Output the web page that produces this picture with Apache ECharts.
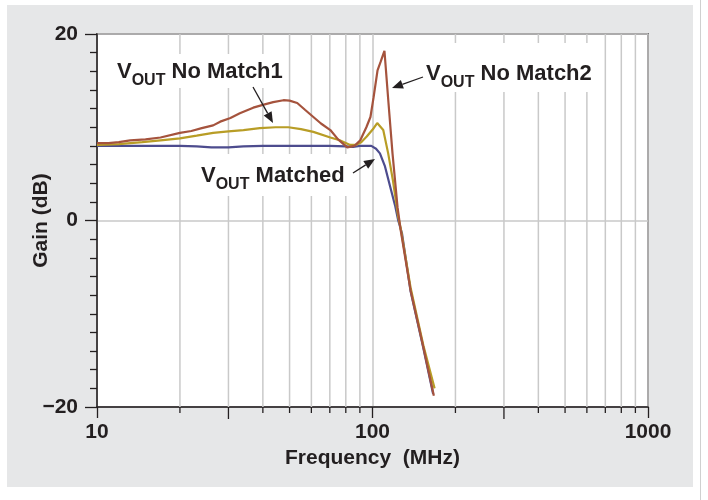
<!DOCTYPE html>
<html>
<head>
<meta charset="utf-8">
<script src="https://cdn.jsdelivr.net/npm/echarts/dist/echarts.min.js"></script>
<style>
html,body{margin:0;padding:0;background:#fff;}
#chart{width:708px;height:500px;}
</style>
</head>
<body>
<div id="chart"></div>
<script>
// ---------- data ----------
const noMatch2Freq = [10, 11, 12, 13.2, 15, 17, 20, 22, 24, 26.4, 28, 30.5, 33, 36.9, 40, 43.6, 47.5, 50, 53.3, 57, 61, 65, 70.3, 75, 81, 86, 90.3, 95, 98.3, 100.9, 104.3, 107, 110.5, 114.3, 118.2, 123.3, 126.5, 137.5, 153, 167];
const noMatch2Gain = [8.3, 8.3, 8.4, 8.6, 8.7, 8.9, 9.4, 9.6, 9.9, 10.2, 10.6, 11.0, 11.5, 12.1, 12.4, 12.7, 12.9, 12.85, 12.6, 11.85, 11.1, 10.4, 9.7, 8.7, 7.85, 8.0, 8.6, 10.0, 11.1, 13.2, 16.1, 17.0, 18.2, 12.6, 7.2, 1.4, -1.0, -7.5, -13.6, -18.8];

const noMatch1Freq = [10, 12, 14.6, 17, 20, 23, 26.4, 30, 34, 39, 44.5, 49.5, 55, 61, 70.3, 76, 83, 87, 91, 95.3, 101, 104, 109.4, 114, 118.6, 124, 126.5, 137.5, 153, 168];
const noMatch1Gain = [8.1, 8.2, 8.4, 8.6, 8.8, 9.1, 9.4, 9.55, 9.7, 9.9, 10.0, 10.0, 9.8, 9.5, 8.9, 8.6, 8.1, 8.1, 8.4, 9.0, 9.9, 10.45, 9.7, 7.2, 4.3, 0.4, -0.8, -7.2, -13.4, -18.0];

const matchedFreq = [10, 15, 20, 23, 26, 30, 34, 40, 50, 60, 70, 80, 85, 90, 95, 99, 103, 106.4, 111, 116, 121, 124, 128, 137.5, 153, 166];
const matchedGain = [8.0, 8.0, 8.0, 7.95, 7.85, 7.85, 7.95, 8.0, 8.0, 8.0, 8.0, 7.95, 7.9, 8.0, 8.0, 8.0, 7.7, 7.2, 5.8, 3.6, 1.5, 0.0, -1.4, -7.6, -13.7, -18.6];

const xMinorTicks = [20, 30, 40, 50, 60, 70, 80, 90, 200, 300, 400, 500, 600, 700, 800, 900];
const xAxisName = 'Frequency  (MHz)';
const yAxisName = 'Gain (dB)';
const annotationTexts = [
  ['V', 'OUT', ' No Match1'],
  ['V', 'OUT', ' No Match2'],
  ['V', 'OUT', ' Matched']
];

// ---------- layout / style ----------
const FONT = '"Liberation Sans", Arial, Helvetica, sans-serif';
const INK = '#231f20';
const GRID_GRAY = '#c9c9c9';
const COLORS = { matched: '#4d4c8e', noMatch1: '#b89d26', noMatch2: '#a5533d' };
// pixel layout of the callouts: text left, cap top, padding, arrow tail -> tip
const annotationLayout = [
  { x: 117, capTop: 65, pad: [7, 4, 5, 4], arrow: [[253, 87], [273, 123]] },
  { x: 426, capTop: 67, pad: [20, 4, 7, 4], arrow: [[423, 77], [392, 88]] },
  { x: 201, capTop: 169, pad: [11, 4, 9, 4], arrow: [[353, 173], [375, 159]] }
];

const chart = echarts.init(document.getElementById('chart'), null, { renderer: 'canvas' });

function pairs(f, g) { return f.map((v, i) => [v, g[i]]); }

function lineSeries(name, f, g, color, z) {
  return {
    name: name, type: 'line', data: pairs(f, g), showSymbol: false, symbol: 'none',
    smooth: false, z: z, silent: true, animation: false,
    lineStyle: { color: color, width: 2.2 }
  };
}

const graphics = [];
// white margins around the grey panel
graphics.push({ type: 'rect', shape: { x: 0, y: 0, width: 708, height: 5 }, style: { fill: '#fff' }, silent: true });
graphics.push({ type: 'rect', shape: { x: 0, y: 487, width: 708, height: 13 }, style: { fill: '#fff' }, silent: true });
graphics.push({ type: 'rect', shape: { x: 0, y: 0, width: 7, height: 500 }, style: { fill: '#fff' }, silent: true });
graphics.push({ type: 'rect', shape: { x: 693, y: 0, width: 15, height: 500 }, style: { fill: '#fff' }, silent: true });
graphics.push({ type: 'line', shape: { x1: 700.5, y1: 0, x2: 700.5, y2: 500 }, style: { stroke: '#d0d0d0', lineWidth: 1 }, silent: true });

annotationTexts.forEach((parts, i) => {
  const L = annotationLayout[i];
  graphics.push({
    type: 'text', z: 100, silent: true,
    x: L.x - L.pad[3], y: L.capTop - 4 - L.pad[0],
    style: {
      text: '{v|' + parts[0] + '}{s|' + parts[1] + '}{t|' + parts[2] + '}',
      backgroundColor: '#fff', padding: L.pad,
      align: 'left', verticalAlign: 'top',
      rich: {
        v: { fill: INK, fontSize: 22, fontWeight: 'bold', fontFamily: FONT, lineHeight: 22, verticalAlign: 'top' },
        s: { fill: INK, fontSize: 16, fontWeight: 'bold', fontFamily: FONT, lineHeight: 16, padding: [12, 0, 0, 0], verticalAlign: 'top' },
        t: { fill: INK, fontSize: 22, fontWeight: 'bold', fontFamily: FONT, lineHeight: 22, verticalAlign: 'top' }
      }
    }
  });
  const [tail, tip] = L.arrow;
  const dx = tip[0] - tail[0], dy = tip[1] - tail[1];
  const len = Math.sqrt(dx * dx + dy * dy);
  const ux = dx / len, uy = dy / len;
  const hl = 11, hw = 4.5;
  const bx = tip[0] - ux * hl, by = tip[1] - uy * hl;
  graphics.push({ type: 'line', z: 101, silent: true, shape: { x1: tail[0], y1: tail[1], x2: bx, y2: by }, style: { stroke: INK, lineWidth: 1.3 } });
  graphics.push({ type: 'polygon', z: 101, silent: true, shape: { points: [[tip[0], tip[1]], [bx - uy * hw, by + ux * hw], [bx + uy * hw, by - ux * hw]] }, style: { fill: INK } });
});

const option = {
  animation: false,
  backgroundColor: '#e6e7e8',
  grid: { left: 97, right: 60, top: 34, bottom: 93, show: true, backgroundColor: '#fff', borderColor: INK, borderWidth: 1.5 },
  xAxis: {
    type: 'log', logBase: 10, min: 10, max: 1000,
    name: xAxisName, nameLocation: 'middle', nameGap: 41, nameMoveOverlap: false,
    nameTextStyle: { color: INK, fontSize: 21, fontWeight: 'bold', fontFamily: FONT },
    axisLine: { show: true, onZero: false, lineStyle: { color: INK, width: 1.5 } },
    axisTick: { show: true, length: 11, lineStyle: { color: INK, width: 1.3 } },
    axisLabel: { color: INK, fontSize: 21, fontWeight: 'bold', fontFamily: FONT, margin: 15, formatter: v => String(Math.round(v)) },
    splitLine: { show: true, lineStyle: { color: GRID_GRAY, width: 1.5 } }
  },
  yAxis: {
    type: 'value', min: -20, max: 20, interval: 20,
    name: yAxisName, nameLocation: 'middle', nameGap: 45, nameRotate: 90, nameMoveOverlap: false,
    nameTextStyle: { color: INK, fontSize: 21, fontWeight: 'bold', fontFamily: FONT },
    axisLine: { show: true, onZero: false, lineStyle: { color: INK, width: 1.5 } },
    axisTick: { show: true, length: 12, lineStyle: { color: INK, width: 1.3 } },
    minorTick: { show: true, splitNumber: 10, length: 7, lineStyle: { color: INK, width: 1.3 } },
    axisLabel: { color: INK, fontSize: 21, fontWeight: 'bold', fontFamily: FONT, margin: 19, formatter: v => (v < 0 ? '\u2212' + (-v) : String(v)) },
    splitLine: { show: true, lineStyle: { color: GRID_GRAY, width: 1.5 } }
  },
  graphic: graphics,
  series: [
    {
      type: 'custom', coordinateSystem: 'cartesian2d', silent: true, clip: false, z: 1,
      data: xMinorTicks.map(v => [v, 0]), encode: { x: 0, y: 1 },
      renderItem: function (params, api) {
        const v = api.value(0);
        const top = api.coord([v, 20]);
        const bot = api.coord([v, -20]);
        const m = Math.round(v / Math.pow(10, Math.floor(Math.log10(v) + 1e-9)));
        const tl = (m === 3) ? 12 : 6;
        return {
          type: 'group', children: [
            { type: 'line', shape: { x1: top[0], y1: top[1], x2: bot[0], y2: bot[1] }, style: { stroke: GRID_GRAY, lineWidth: 1.5 } },
            { type: 'line', shape: { x1: bot[0], y1: bot[1], x2: bot[0], y2: bot[1] + tl }, style: { stroke: INK, lineWidth: 1.3 } }
          ]
        };
      }
    },
    lineSeries('VOUT Matched', matchedFreq, matchedGain, COLORS.matched, 3),
    lineSeries('VOUT No Match1', noMatch1Freq, noMatch1Gain, COLORS.noMatch1, 4),
    lineSeries('VOUT No Match2', noMatch2Freq, noMatch2Gain, COLORS.noMatch2, 5)
  ]
};
chart.setOption(option);
</script>
</body>
</html>
